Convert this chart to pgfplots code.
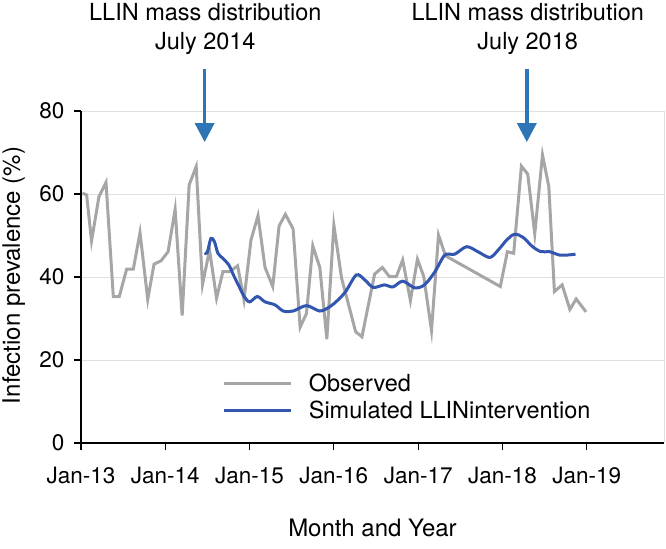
\documentclass[border=0pt]{standalone}
\usepackage{fontspec}
\setmainfont{TeX Gyre Heros}
\usepackage{pgfplots}
\pgfplotsset{compat=1.18}
\usetikzlibrary{arrows.meta}
\definecolor{obsgray}{RGB}{166,166,166}
\definecolor{simblue}{RGB}{50,85,175}
\definecolor{arrblue}{RGB}{46,117,182}
\begin{document}
\begin{tikzpicture}
\path[use as bounding box] (-81bp,-106bp) rectangle (585bp,443bp);
\begin{axis}[
  at={(0,0)}, anchor=south west,
  scale only axis, width=583bp, height=332bp,
  xmin=0, xmax=83, ymin=0, ymax=80,
  axis x line*=bottom, axis y line*=left,
  xtick={0,12,24,36,48,60,72},
  xticklabels={Jan-13,Jan-14,Jan-15,Jan-16,Jan-17,Jan-18,Jan-19},
  ytick={0,20,40,60,80},
  tick align=outside, major tick length=7bp,
  ymajorgrids, grid style={color=black!12, line width=0.8bp},
  axis line style={black, line width=1.1bp},
  tick style={black, line width=1.1bp},
  tick label style={font=\fontsize{22.5bp}{26bp}\selectfont},
  xticklabel style={yshift=-14bp},
  yticklabel style={xshift=-6bp},
  /pgf/number format/assume math mode=true,
  xlabel={Month and Year},
  ylabel={Infection prevalence (\%)},
  xlabel style={at={(rel axis cs:0.5,-0.2831)}, anchor=base, font=\fontsize{24bp}{28bp}\selectfont},
  ylabel style={at={(rel axis cs:-0.1155,0.505)}, anchor=center, inner sep=0pt, font=\fontsize{24bp}{28bp}\selectfont},
  clip=false,
  legend style={at={(rel axis cs:0.243,0.139)}, anchor=west, draw=none, fill=none,
    inner sep=0pt, row sep=4bp, column sep=14bp, font=\fontsize{23.5bp}{27bp}\selectfont},
  legend cell align=left,
  legend image code/.code={\draw[#1] (0bp,0bp) -- (67bp,0bp);},
]
\draw[black!12, line width=0.8bp] (rel axis cs:1,0) -- (rel axis cs:1,1);
\addplot[obsgray, line width=3bp] coordinates {
(0.2,60.2) (0.8,59.8) (1.5,48.7) (2.56,59.4) (3.56,62.8) (4.6,35.3) (5.45,35.3)
(6.5,41.9) (7.45,41.9) (8.4,50.7) (9.5,34.6) (10.4,43.1) (11.4,43.9) (12.4,46.1)
(13.4,56.3) (14.4,30.7) (15.4,62.2) (16.4,66.6) (17.3,38.2) (18.3,46.5) (19.3,34.9)
(20.2,41.3) (21.2,41.3) (22.3,42.7) (23.2,34.5) (24.2,48.9) (25.2,54.8) (26.2,42.3)
(27.3,37.7) (28.2,52.3) (29.1,55.1) (30.2,51.6) (31.2,27.9) (32.1,31.2) (33.0,47.5)
(34.0,42.3) (35.0,25.0) (36.0,52.5) (37.1,39.7) (38.1,33.3) (39.1,26.8) (40.0,25.6)
(41.8,40.7) (42.9,42.3) (43.9,40.1) (44.9,40.1) (45.8,44.1) (46.9,34.3) (47.9,44.3)
(48.8,40.1) (49.9,27.1) (50.9,50.1) (51.9,45.1) (59.7,37.7) (60.7,46.1) (61.6,45.7)
(62.7,66.7) (63.6,64.8) (64.6,50.4) (65.7,69.4) (66.6,61.8) (67.4,36.5) (68.5,38.1)
(69.6,32.2) (70.5,34.7) (71.9,31.6)
};
\addlegendentry{Observed}
\addplot[simblue, line width=3bp, smooth, tension=0.5] coordinates {
(17.6,45.8) (17.97,45.9) (18.5,49.3) (19.0,48.5) (19.5,45.7) (20.2,44.5) (21.05,42.9)
(21.7,40.5) (22.4,38.1) (23.2,35.4) (24.0,34.0) (25.1,35.3) (26.2,34.0) (27.6,33.3)
(28.8,31.8) (30.2,31.8) (32.1,33.1) (34.0,31.8) (35.4,32.8) (36.1,33.7) (37.6,36.3)
(39.2,40.5) (40.4,39.3) (41.6,37.5) (43.2,38.1) (44.4,37.6) (45.8,39.0) (47.5,37.4)
(48.9,38.1) (50.4,41.3) (51.8,45.3) (53.2,45.5) (54.9,47.3) (56.5,46.1) (58.2,44.7)
(59.4,46.5) (60.6,48.9) (61.7,50.3) (62.9,49.6) (64.3,47.3) (65.5,46.1) (66.7,46.1)
(68.1,45.3) (69.3,45.3) (70.4,45.5)
};
\addlegendentry{Simulated LLINintervention}
\draw[arrblue, line width=3.5bp, -{Triangle[length=19bp,width=19bp]}] (axis cs:17.6,90.1) -- (axis cs:17.6,72.5);
\draw[arrblue, line width=3.5bp, -{Triangle[length=19bp,width=19bp]}] (axis cs:63.47,90.1) -- (axis cs:63.47,72.5);
\node[anchor=base, font=\fontsize{23.5bp}{27bp}\selectfont] at (axis cs:17.7,101.7) {LLIN mass distribution};
\node[anchor=base, font=\fontsize{23.5bp}{27bp}\selectfont] at (axis cs:17.7,94.9) {July 2014};
\node[anchor=base, font=\fontsize{23.5bp}{27bp}\selectfont] at (axis cs:63.6,101.7) {LLIN mass distribution};
\node[anchor=base, font=\fontsize{23.5bp}{27bp}\selectfont] at (axis cs:63.6,94.9) {July 2018};
\end{axis}
\end{tikzpicture}
\end{document}
